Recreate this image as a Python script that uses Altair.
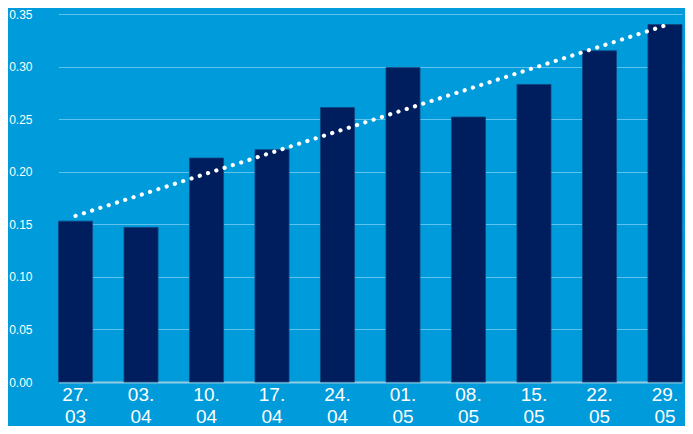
import altair as alt
import pandas as pd

dates = ["27. 03", "03. 04", "10. 04", "17. 04", "24. 04",
         "01. 05", "08. 05", "15. 05", "22. 05", "29. 05"]
values = [0.153, 0.147, 0.213, 0.221, 0.261, 0.299, 0.252, 0.283, 0.315, 0.340]

trend_dates = ["27. 03", "29. 05"]
trend_values = [0.158, 0.339]

BG = "#009BDA"
BAR = "#001E5E"
GRID = "#5EC3EC"
TEXT = "#FFFFFF"
FONT = "Liberation Sans"

bars_df = pd.DataFrame({"date": dates, "value": values})
trend_df = pd.DataFrame({"date": trend_dates, "value": trend_values})

xscale = alt.Scale(domain=dates, paddingInner=0.48, paddingOuter=0, range=[15.5, 639])
yscale = alt.Scale(domain=[0, 0.35], nice=False)

bars = alt.Chart(bars_df).mark_bar(color=BAR, stroke="#12447F", strokeWidth=0.8).encode(
    x=alt.X("date:N", sort=None, scale=xscale, title=None,
            axis=alt.Axis(labelAngle=0, labelExpr="split(datum.label, ' ')",
                          labelFontSize=19, labelLineHeight=22, labelColor=TEXT,
                          labelFont=FONT, labelPadding=3, ticks=False,
                          domain=True, domainColor="#93CBE2", domainWidth=2,
                          grid=False)),
    y=alt.Y("value:Q", scale=yscale, title=None,
            axis=alt.Axis(values=[0, 0.05, 0.1, 0.15, 0.2, 0.25, 0.3, 0.35],
                          format=".2f", labelFontSize=12, labelColor=TEXT,
                          labelFont=FONT, labelPadding=11, ticks=False,
                          domain=False, grid=True, gridColor=GRID, gridWidth=1.2)),
)

trend = alt.Chart(trend_df).mark_line(
    color="white", strokeWidth=4.2, strokeDash=[0.1, 8.6], strokeCap="round"
).encode(
    x=alt.X("date:N", sort=None, scale=xscale),
    y=alt.Y("value:Q", scale=yscale),
)

chart = alt.layer(bars, trend).properties(
    width=642,
    height=368,
    background=BG,
    padding={"left": 35, "top": 6, "right": 0, "bottom": 44},
    autosize=alt.AutoSizeParams(type="none"),
).configure_view(stroke=None)

chart.save("out.html", embed_options={"renderer": "svg", "actions": False})
